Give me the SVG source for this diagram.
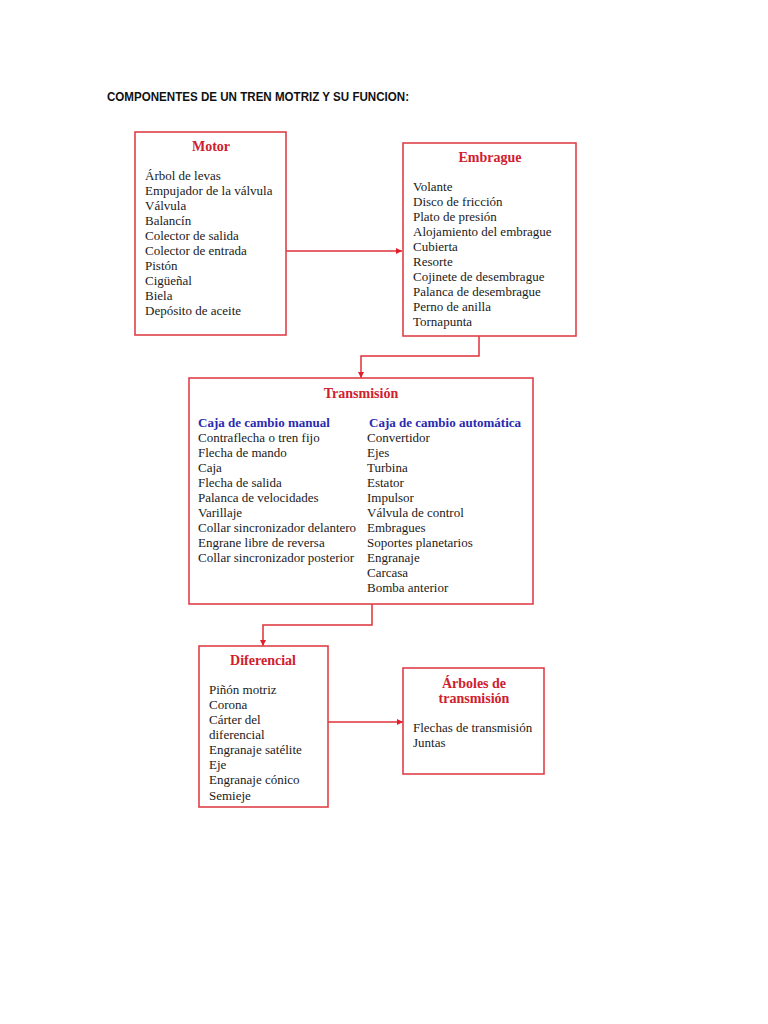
<svg xmlns="http://www.w3.org/2000/svg" width="768" height="1024" viewBox="0 0 768 1024">
<style>
.box{fill:#fff;stroke:#e0404a;stroke-width:1.6}
.t{font-family:"Liberation Serif","Times New Roman",serif;font-size:13px;fill:#1a1a1a}
.h{font-family:"Liberation Serif","Times New Roman",serif;font-size:14px;font-weight:bold;fill:#d0202e}
.s{font-family:"Liberation Serif","Times New Roman",serif;font-size:13px;font-weight:bold;fill:#2a2ab0}
.c{fill:none;stroke:#e0303a;stroke-width:1.5}
</style>
<defs>
<marker id="ar" viewBox="0 0 10 10" refX="10" refY="5" markerWidth="6" markerHeight="6" orient="auto" markerUnits="userSpaceOnUse">
<path d="M0,0L10,5L0,10z" fill="#e0202a"/>
</marker>
</defs>
<rect width="768" height="1024" fill="#fff"/>
<text x="107" y="101" font-family="'Liberation Sans',Arial,sans-serif" font-size="12" font-weight="bold" fill="#111" textLength="302" lengthAdjust="spacingAndGlyphs">COMPONENTES DE UN TREN MOTRIZ Y SU FUNCION:</text>
<g id="connectors">
<path class="c" d="M286,251H402" marker-end="url(#ar)"/>
<path class="c" d="M479,336V356H361V378" marker-end="url(#ar)"/>
<path class="c" d="M372,604V625H263V646" marker-end="url(#ar)"/>
<path class="c" d="M328,722H403" marker-end="url(#ar)"/>
</g>
<g id="motor">
<rect class="box" x="135" y="132" width="151" height="203"/>
<text class="h" x="211" y="151" text-anchor="middle">Motor</text>
<text class="t" x="145" y="180">Árbol de levas</text>
<text class="t" x="145" y="195">Empujador de la válvula</text>
<text class="t" x="145" y="210">Válvula</text>
<text class="t" x="145" y="225">Balancín</text>
<text class="t" x="145" y="240">Colector de salida</text>
<text class="t" x="145" y="255">Colector de entrada</text>
<text class="t" x="145" y="270">Pistón</text>
<text class="t" x="145" y="285">Cigüeñal</text>
<text class="t" x="145" y="300">Biela</text>
<text class="t" x="145" y="315">Depósito de aceite</text>
</g>
<g id="embrague">
<rect class="box" x="403" y="143" width="173" height="193"/>
<text class="h" x="490" y="162" text-anchor="middle">Embrague</text>
<text class="t" x="413" y="191">Volante</text>
<text class="t" x="413" y="206">Disco de fricción</text>
<text class="t" x="413" y="221">Plato de presión</text>
<text class="t" x="413" y="236">Alojamiento del embrague</text>
<text class="t" x="413" y="251">Cubierta</text>
<text class="t" x="413" y="266">Resorte</text>
<text class="t" x="413" y="281">Cojinete de desembrague</text>
<text class="t" x="413" y="296">Palanca de desembrague</text>
<text class="t" x="413" y="311">Perno de anilla</text>
<text class="t" x="413" y="326">Tornapunta</text>
</g>
<g id="transmision">
<rect class="box" x="189" y="378" width="344" height="226"/>
<text class="h" x="361" y="398" text-anchor="middle">Transmisión</text>
<text class="s" x="198" y="427">Caja de cambio manual</text>
<text class="t" x="198" y="442">Contraflecha o tren fijo</text>
<text class="t" x="198" y="457">Flecha de mando</text>
<text class="t" x="198" y="472">Caja</text>
<text class="t" x="198" y="487">Flecha de salida</text>
<text class="t" x="198" y="502">Palanca de velocidades</text>
<text class="t" x="198" y="517">Varillaje</text>
<text class="t" x="198" y="532">Collar sincronizador delantero</text>
<text class="t" x="198" y="547">Engrane libre de reversa</text>
<text class="t" x="198" y="562">Collar sincronizador posterior</text>
<text class="s" x="369" y="427">Caja de cambio automática</text>
<text class="t" x="367" y="442">Convertidor</text>
<text class="t" x="367" y="457">Ejes</text>
<text class="t" x="367" y="472">Turbina</text>
<text class="t" x="367" y="487">Estator</text>
<text class="t" x="367" y="502">Impulsor</text>
<text class="t" x="367" y="517">Válvula de control</text>
<text class="t" x="367" y="532">Embragues</text>
<text class="t" x="367" y="547">Soportes planetarios</text>
<text class="t" x="367" y="562">Engranaje</text>
<text class="t" x="367" y="577">Carcasa</text>
<text class="t" x="367" y="592">Bomba anterior</text>
</g>
<g id="diferencial">
<rect class="box" x="199" y="646" width="129" height="161"/>
<text class="h" x="263" y="665" text-anchor="middle">Diferencial</text>
<text class="t" x="209" y="694">Piñón motriz</text>
<text class="t" x="209" y="709">Corona</text>
<text class="t" x="209" y="724">Cárter del</text>
<text class="t" x="209" y="739">diferencial</text>
<text class="t" x="209" y="754">Engranaje satélite</text>
<text class="t" x="209" y="769">Eje</text>
<text class="t" x="209" y="784">Engranaje cónico</text>
<text class="t" x="209" y="800">Semieje</text>
</g>
<g id="arboles">
<rect class="box" x="403" y="668" width="141" height="106"/>
<text class="h" x="474" y="688" text-anchor="middle">Árboles de</text>
<text class="h" x="474" y="703" text-anchor="middle">transmisión</text>
<text class="t" x="413" y="732">Flechas de transmisión</text>
<text class="t" x="413" y="747">Juntas</text>
</g>
</svg>
